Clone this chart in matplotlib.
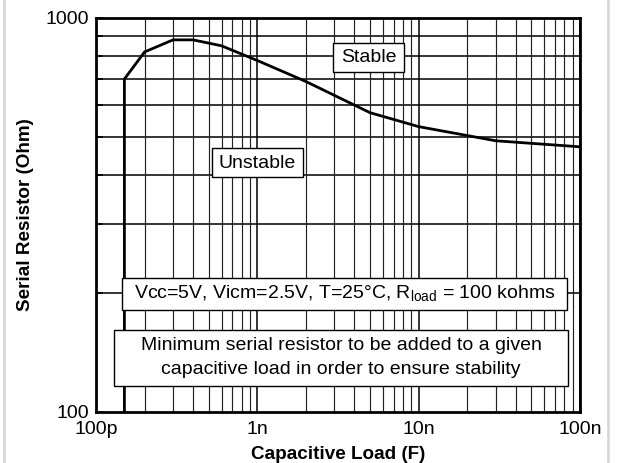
import matplotlib
matplotlib.use("Agg")
import matplotlib.pyplot as plt
from matplotlib.patches import Rectangle
from matplotlib.lines import Line2D
from matplotlib.ticker import FixedLocator, NullFormatter

plt.rcParams['font.family'] = ['Liberation Sans', 'DejaVu Sans']
plt.rcParams['mathtext.fontset'] = 'custom'
plt.rcParams['mathtext.rm'] = 'Liberation Sans'

# Data (capacitive load in F, minimum serial resistor in Ohm)
cap_load = [150e-12, 150e-12, 200e-12, 300e-12, 400e-12, 600e-12, 1e-9, 2e-9, 4e-9, 5e-9, 10e-9, 30e-9, 100e-9]
resistor = [100, 700, 820, 880, 880, 850, 780, 690, 601, 575, 530, 488, 471]

x_ticks = [100e-12, 1e-9, 10e-9, 100e-9]
x_tick_labels = ['100p', '1n', '10n', '100n']
x_minor = [m * d for d in (100e-12, 1e-9, 10e-9) for m in range(2, 10)]
y_ticks = [100, 1000]
y_tick_labels = ['100', '1000']
y_minor = [200, 300, 400, 500, 600, 700, 800, 900]

W, H = 617, 463
fig = plt.figure(figsize=(W / 100, H / 100), dpi=100)
ax = fig.add_axes([96 / W, 1 - 412 / H, (580 - 96) / W, (412 - 18) / H])

ax.set_xscale('log')
ax.set_yscale('log')
ax.set_xlim(100e-12, 100e-9)
ax.set_ylim(100, 1000)

ax.xaxis.set_major_locator(FixedLocator(x_ticks))
ax.set_xticklabels(x_tick_labels)
ax.yaxis.set_major_locator(FixedLocator(y_ticks))
ax.set_yticklabels(y_tick_labels)
ax.xaxis.set_minor_locator(FixedLocator(x_minor))
ax.yaxis.set_minor_locator(FixedLocator(y_minor))
ax.xaxis.set_minor_formatter(NullFormatter())
ax.yaxis.set_minor_formatter(NullFormatter())

# grid drawn explicitly from the tick arrays
ax.hlines(y_minor, 100e-12, 100e-9, colors='black', linewidth=1.1, zorder=2, snap=True)
ax.vlines(x_ticks, 100, 1000, colors='black', linewidth=1.1, zorder=2, snap=True)
ax.vlines(x_minor, 100, 1000, colors='#222222', linewidth=0.85, zorder=2, snap=True)

ax.tick_params(which='both', direction='in', length=0, labelsize=14)
ax.tick_params(axis='y', which='both', length=5, width=1.2, left=True, pad=5)
ax.tick_params(axis='x', which='major', pad=6.5)

for s in ax.spines.values():
    s.set_linewidth(2.0)
    s.set_color('black')
    s.set_zorder(4)

ax.plot(cap_load, resistor, color='black', linewidth=2.0, solid_joinstyle='miter', zorder=3)

ax.set_xlabel('Capacitive Load (F)', fontsize=13.6, fontweight='bold', labelpad=5.5)
ax.set_ylabel('Serial Resistor (Ohm)', fontsize=13.6, fontweight='bold', labelpad=8.5)


def box(x0, y0, x1, y1):
    r = Rectangle((x0 / W, 1 - y1 / H), (x1 - x0) / W, (y1 - y0) / H,
                  transform=fig.transFigure, facecolor='white', edgecolor='black',
                  linewidth=1.0, zorder=5)
    fig.add_artist(r)


def txt(x, y, s):
    fig.text(x / W, 1 - y / H, s, ha='center', va='center', fontsize=14, zorder=6)


box(333, 43, 404, 72)
txt(368.5, 58, 'Stable')
box(212, 148, 303, 177)
txt(257.5, 163, 'Unstable')
box(122, 278, 567, 310)
txt(344.5, 294, r'Vcc=5V, Vicm=2.5V, T=25°C, R$_{\mathrm{load}}$ = 100 kohms')
box(114, 330, 568, 386)
txt(341, 346, 'Minimum serial resistor to be added to a given')
txt(341, 370, 'capacitive load in order to ensure stability')

# light side borders of the original figure
fig.add_artist(Line2D([4 / W, 4 / W], [0, 1], transform=fig.transFigure, color='#d3d9e0', linewidth=2))
fig.add_artist(Line2D([608 / W, 608 / W], [0, 1], transform=fig.transFigure, color='#d3d9e0', linewidth=2))

fig.savefig('out.png', dpi=100)
